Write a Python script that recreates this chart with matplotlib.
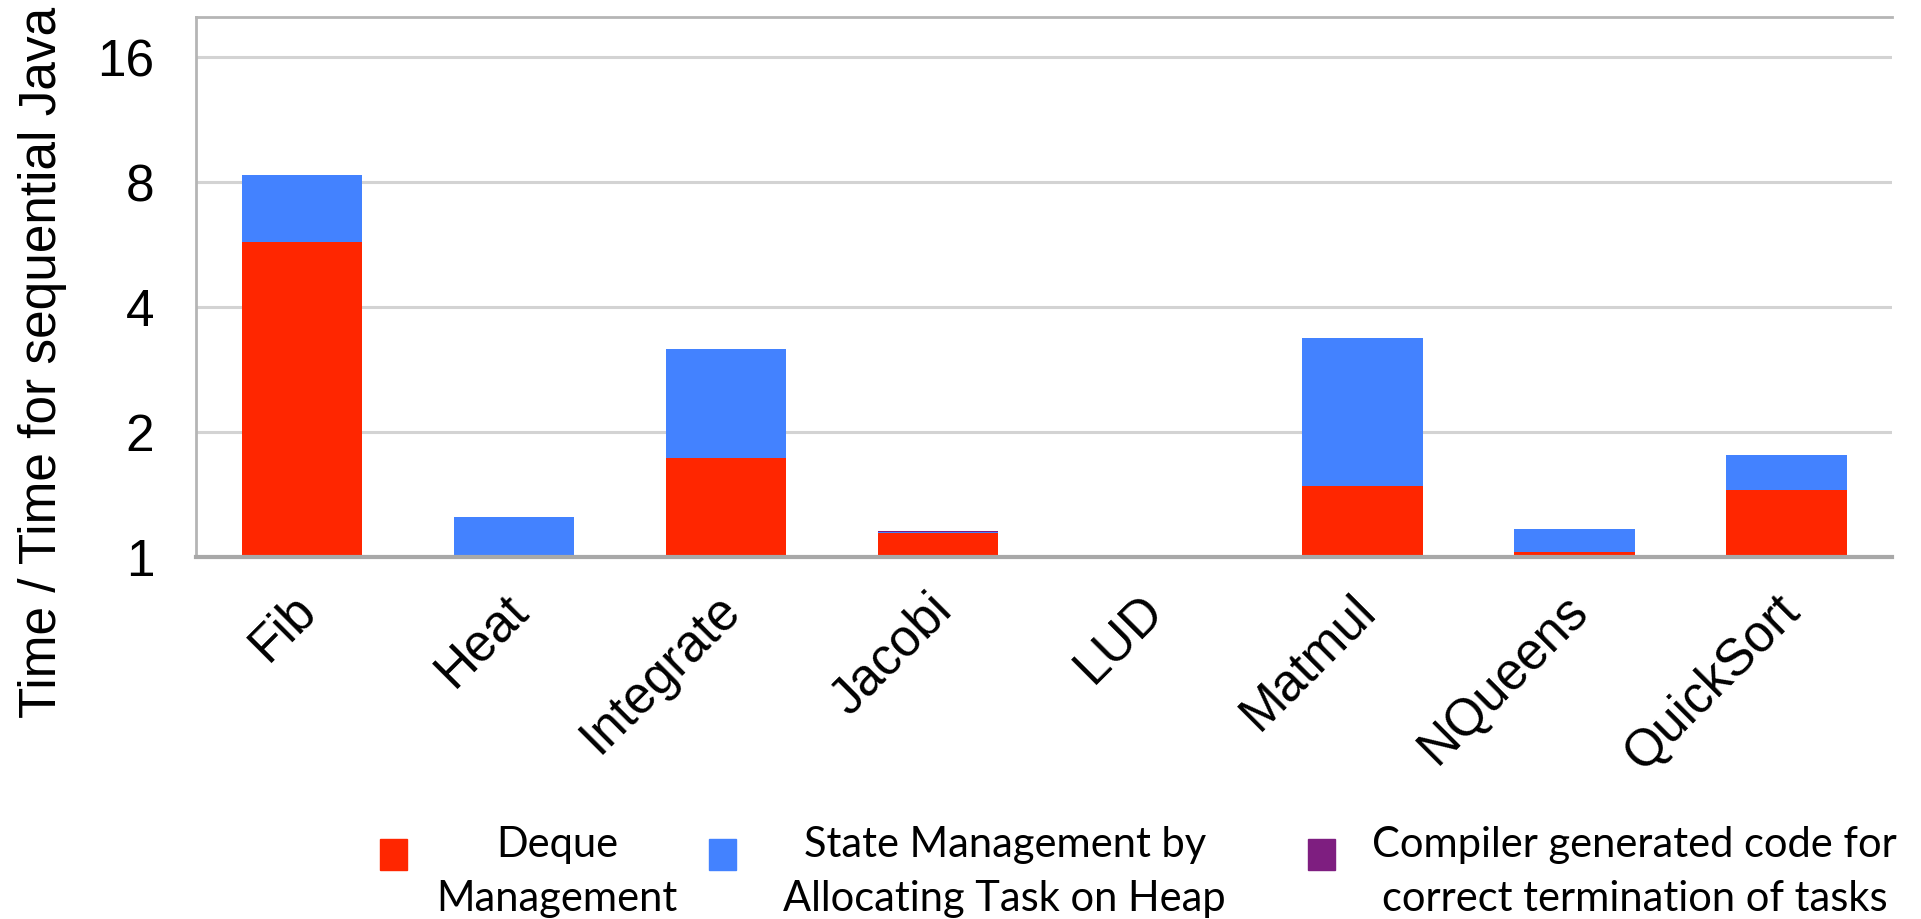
import matplotlib
matplotlib.use("Agg")
import matplotlib.pyplot as plt
import matplotlib.ticker as ticker
from matplotlib.patches import Rectangle
from matplotlib.transforms import ScaledTranslation
import numpy as np

plt.rcParams['font.family'] = ['Liberation Sans', 'DejaVu Sans']

# benchmark names
benchmarks = ["Fib", "Heat", "Integrate", "Jacobi", "LUD", "Matmul", "NQueens", "QuickSort"]

# overhead on top of sequential Java (= 1.0), stacked
deque_mgmt = [4.73, 0.0, 0.73, 0.145, 0.004, 0.48, 0.025, 0.45]
state_mgmt = [2.60, 0.25, 1.44, 0.005, 0.0, 1.89, 0.145, 0.31]
compiler_code = [0.0, 0.0, 0.0, 0.006, 0.004, 0.0, 0.0, 0.0]

legend_labels = ["Deque\nManagement",
                 "State Management by\nAllocating Task on Heap",
                 "Compiler generated code for\ncorrect termination of tasks"]
colors = ["#FF2600", "#4382FF", "#7E1E80"]

yticks = [1, 2, 4, 8, 16]

fig = plt.figure(figsize=(19.21, 9.19), dpi=100)
ax = fig.add_axes([0.102, 0.394, 0.883, 0.5875])

x = np.arange(len(benchmarks))
base = np.ones(len(benchmarks))
for vals, c in zip([deque_mgmt, state_mgmt, compiler_code], colors):
    vals = np.array(vals)
    ax.bar(x, vals, bottom=base, width=0.57, color=c, linewidth=0, zorder=3)
    base = base + vals

ax.set_yscale('log', base=2)
ax.set_ylim(1, 20)
ax.set_xlim(-0.5, len(benchmarks) - 0.5)
ax.yaxis.set_major_locator(ticker.FixedLocator(yticks))
ax.yaxis.set_major_formatter(ticker.FixedFormatter([str(t) for t in yticks]))
ax.yaxis.set_minor_locator(ticker.NullLocator())
ax.grid(axis='y', color='#D3D3D3', lw=2.2, zorder=0)
ax.tick_params(axis='y', length=0, pad=30, labelsize=37)
ax.tick_params(axis='x', length=0, pad=33, labelsize=37)

ax.set_xticks(x)
ax.set_xticklabels(benchmarks, rotation=45, ha='right', va='center', rotation_mode='anchor')
# nudge the slanted names a little to the right
shift = ScaledTranslation(6 / 100, 0, fig.dpi_scale_trans)
for lbl in ax.get_xticklabels():
    lbl.set_transform(lbl.get_transform() + shift)

for side in ['left', 'top']:
    ax.spines[side].set_color('#B5B5B5')
    ax.spines[side].set_linewidth(2)
ax.spines['right'].set_visible(False)
ax.spines['bottom'].set_color('#A8A8A8')
ax.spines['bottom'].set_linewidth(3)
ax.spines['bottom'].set_zorder(4)

ax.set_ylabel("Time / Time for sequential Java", fontsize=37)
ax.yaxis.set_label_coords(-0.076, 0.36)

# legend along the bottom
sq_x = [0.198, 0.369, 0.681]
txt_x = [0.290, 0.523, 0.851]
for sx, tx, lab, c in zip(sq_x, txt_x, legend_labels, colors):
    fig.patches.append(Rectangle((sx, 0.053), 0.014, 0.034, transform=fig.transFigure,
                                 color=c, zorder=3))
    fig.text(tx, 0.051, lab, ha='center', va='center', fontsize=30,
             family=['Lato', 'DejaVu Sans'], linespacing=1.5)

fig.savefig("out.png", dpi=100)
